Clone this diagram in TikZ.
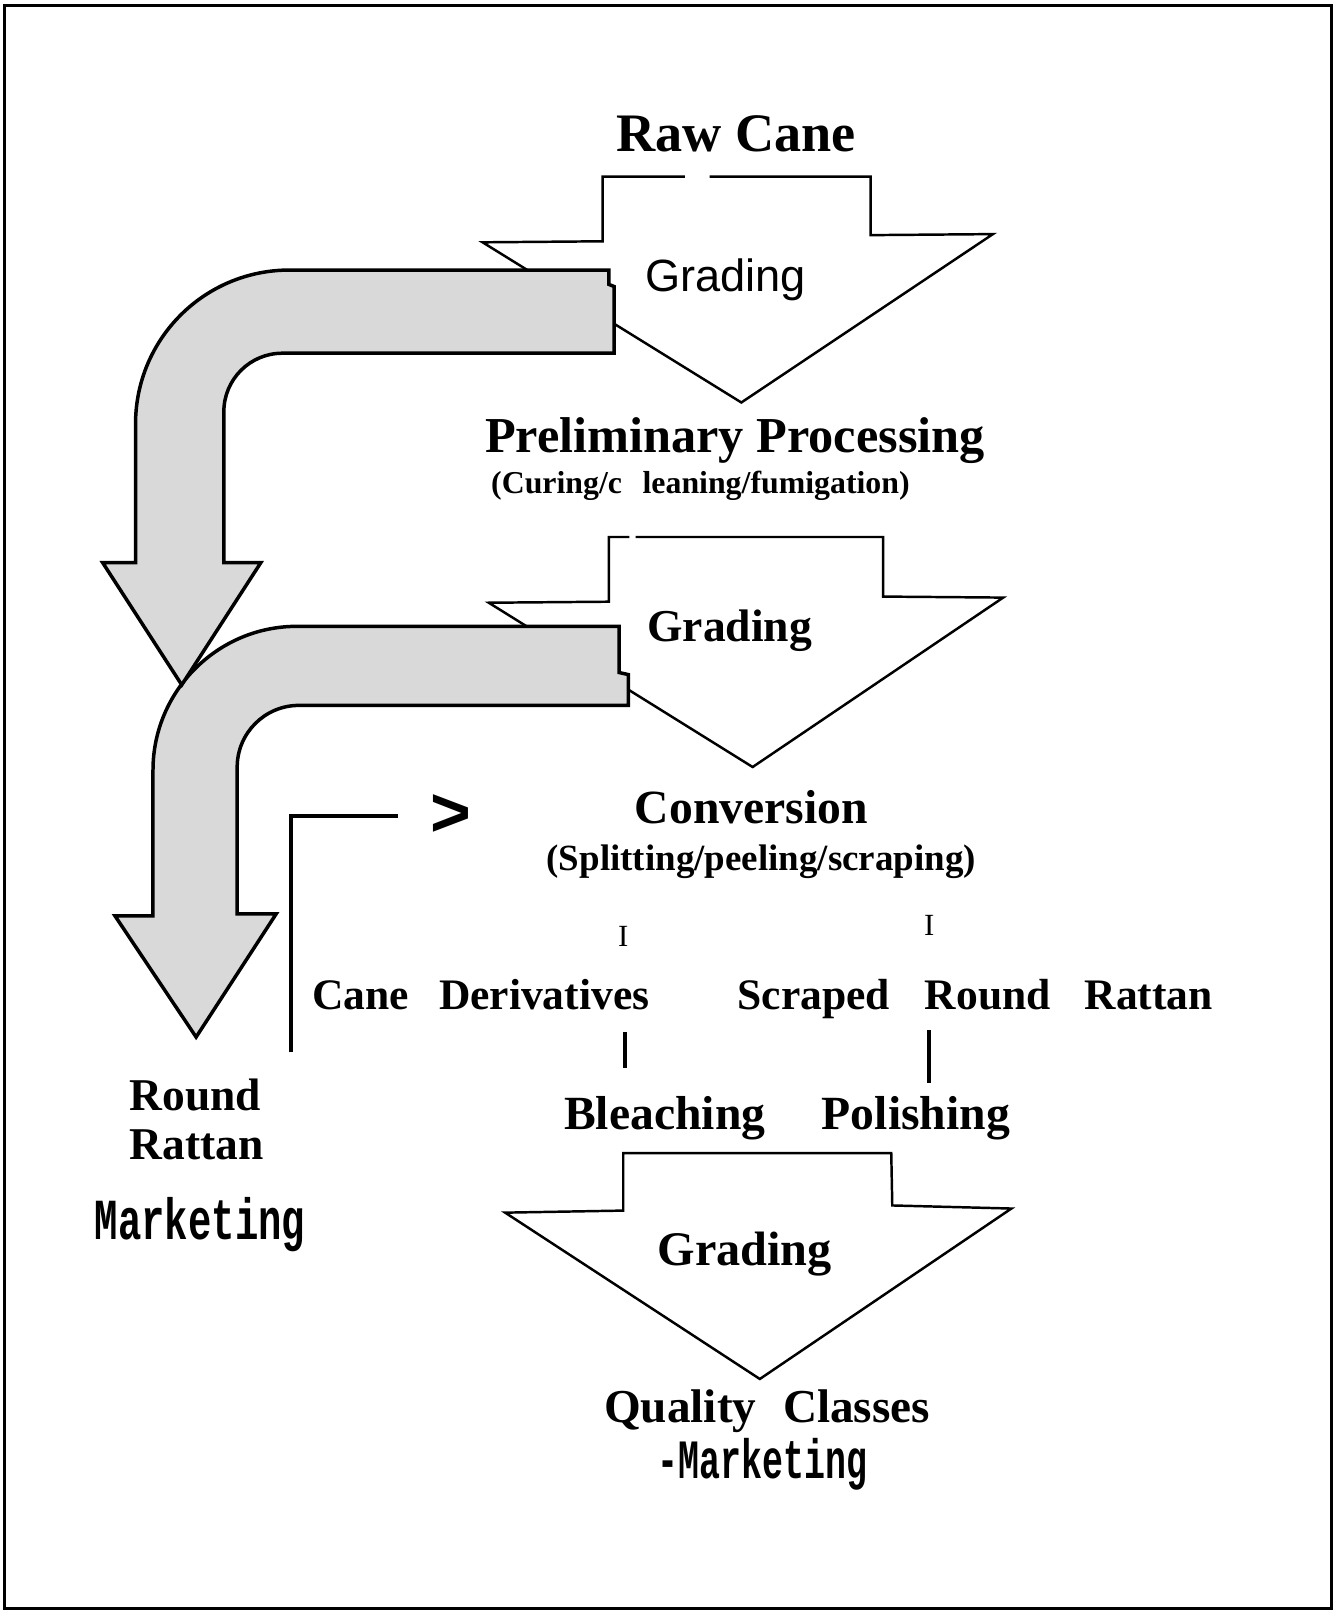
\documentclass[tikz,border=0pt]{standalone}
\usepackage{graphicx}
\usepackage{fontspec}
\setmainfont{Liberation Serif}
\newfontfamily\sansf{Liberation Sans}
\newfontfamily\monof{Liberation Mono}
\begin{document}
\begin{tikzpicture}[x=0.5pt,y=-0.5pt,
  outl/.style={fill=white, draw=black, line width=1.2pt, line join=miter},
  pipe/.style={fill=black!15, draw=black, line width=1.7pt, line join=miter},
  lbl/.style={anchor=base west, inner sep=0pt},
  bar/.style={line width=2pt},
]
\useasboundingbox (0,0) rectangle (1298,1568);
\draw[line width=1.5pt] (4.4,5.2) rectangle (1296.5,1566.2);

% white process arrows
\path[outl] (691,172) -- (848,172) -- (848,229) -- (967,228) -- (722,392) -- (470,236) -- (587,235) -- (587,172) -- (667,172);
\path[outl] (619,523) -- (860,523) -- (860,581) -- (977,582) -- (733,747) -- (476,587) -- (593,586) -- (593,523) -- (613,523);
\path[outl] (607,1123) -- (868,1123) -- (869,1174) -- (985,1177) -- (740,1343) -- (492,1181) -- (607,1179) -- cycle;

% grey bent arrows
\path[pipe] (603,610) -- (289,610) .. controls (212,610) and (149,673) .. (149,750) -- (149,892) -- (112,892) -- (191,1010) -- (269,890) -- (231,890) -- (231,747) .. controls (231,714) and (258,687) .. (291,687) -- (612,687) -- (612,657) -- (603,655) -- cycle;
\path[pipe] (593,263) -- (282,263) .. controls (199,263) and (132,330) .. (132,413) -- (132,548) -- (100,548) -- (177,667) -- (254,548) -- (218,548) -- (218,401) .. controls (218,369.5) and (243.5,344) .. (275,344) -- (598,344) -- (598,279) -- (593,277) -- cycle;

% texts
\node[lbl, font=\bfseries\fontsize{26.4}{30}\selectfont] (raw) at (600,148) {Raw Cane};
\node[lbl, font=\sansf\fontsize{22}{26}\selectfont] (g1) at (628,284) {Grading};
\node[lbl, font=\bfseries\fontsize{24.5}{28}\selectfont] (prel) at (472,441) {Preliminary Processing};
\node[lbl, font=\bfseries\fontsize{15.5}{18}\selectfont] (cur) at (478,481) {(Curing/c\hspace{10pt}leaning/fumigation)};
\node[lbl, font=\bfseries\fontsize{22.2}{26}\selectfont] (g2) at (630,625) {Grading};
\node[lbl, font=\bfseries\fontsize{23.2}{26}\selectfont] (conv) at (618,802) {Conversion};
\node[lbl, font=\bfseries\fontsize{18}{22}\selectfont] (split) at (532,848) {(Splitting/peeling/scraping)};
\node[anchor=base, inner sep=0pt, font=\fontsize{15}{18}\selectfont] (i1) at (607,922) {I};
\node[anchor=base, inner sep=0pt, font=\fontsize{15}{18}\selectfont] (i2) at (905,911) {I};
\node[lbl, font=\bfseries\fontsize{21.2}{25}\selectfont] (cane) at (304,983) {Cane\hspace{14.5pt}Derivatives};
\node[lbl, font=\bfseries\fontsize{21.2}{25}\selectfont] (scr) at (718,983) {Scraped\hspace{17pt}Round\hspace{16.5pt}Rattan};
\node[lbl, font=\bfseries\fontsize{23.2}{26}\selectfont] (bl) at (549,1100) {Bleaching};
\node[lbl, font=\bfseries\fontsize{23.2}{26}\selectfont] (pol) at (800,1100) {Polishing};
\node[anchor=north west, inner sep=0pt, align=left, font=\bfseries\fontsize{22.15}{24}\selectfont] (rr) at (126,1050) {Round\\Rattan};
\node[lbl, font=\monof\bfseries\fontsize{28.3}{30}\selectfont] (mk1) at (92,1207) {\scalebox{0.67}[1]{Marketing}};
\node[lbl, font=\bfseries\fontsize{23.5}{26}\selectfont] (g3) at (640,1232) {Grading};
\node[lbl, font=\bfseries\fontsize{23}{26}\selectfont] (qc) at (588,1385) {Quality\hspace{13pt}Classes};
\node[lbl, font=\monof\bfseries\fontsize{27}{29}\selectfont] (mk2) at (640,1440) {\scalebox{0.63}[1]{-Marketing}};
\node[anchor=base, inner sep=0pt, font=\sansf\bfseries\fontsize{34}{34}\selectfont] (gt) at (439,815) {>};

% connectors
\coordinate (cb) at (283,1025);
\coordinate (ce) at (388,795);
\draw[bar, line join=miter] (cb) |- (ce);
\coordinate (b1t) at (609,1005);
\coordinate (b1b) at (609,1040);
\coordinate (b2t) at (905,1003);
\coordinate (b2b) at (905,1055);
\draw[bar] (b1t) -- (b1b);
\draw[bar] (b2t) -- (b2b);
\end{tikzpicture}
\end{document}
